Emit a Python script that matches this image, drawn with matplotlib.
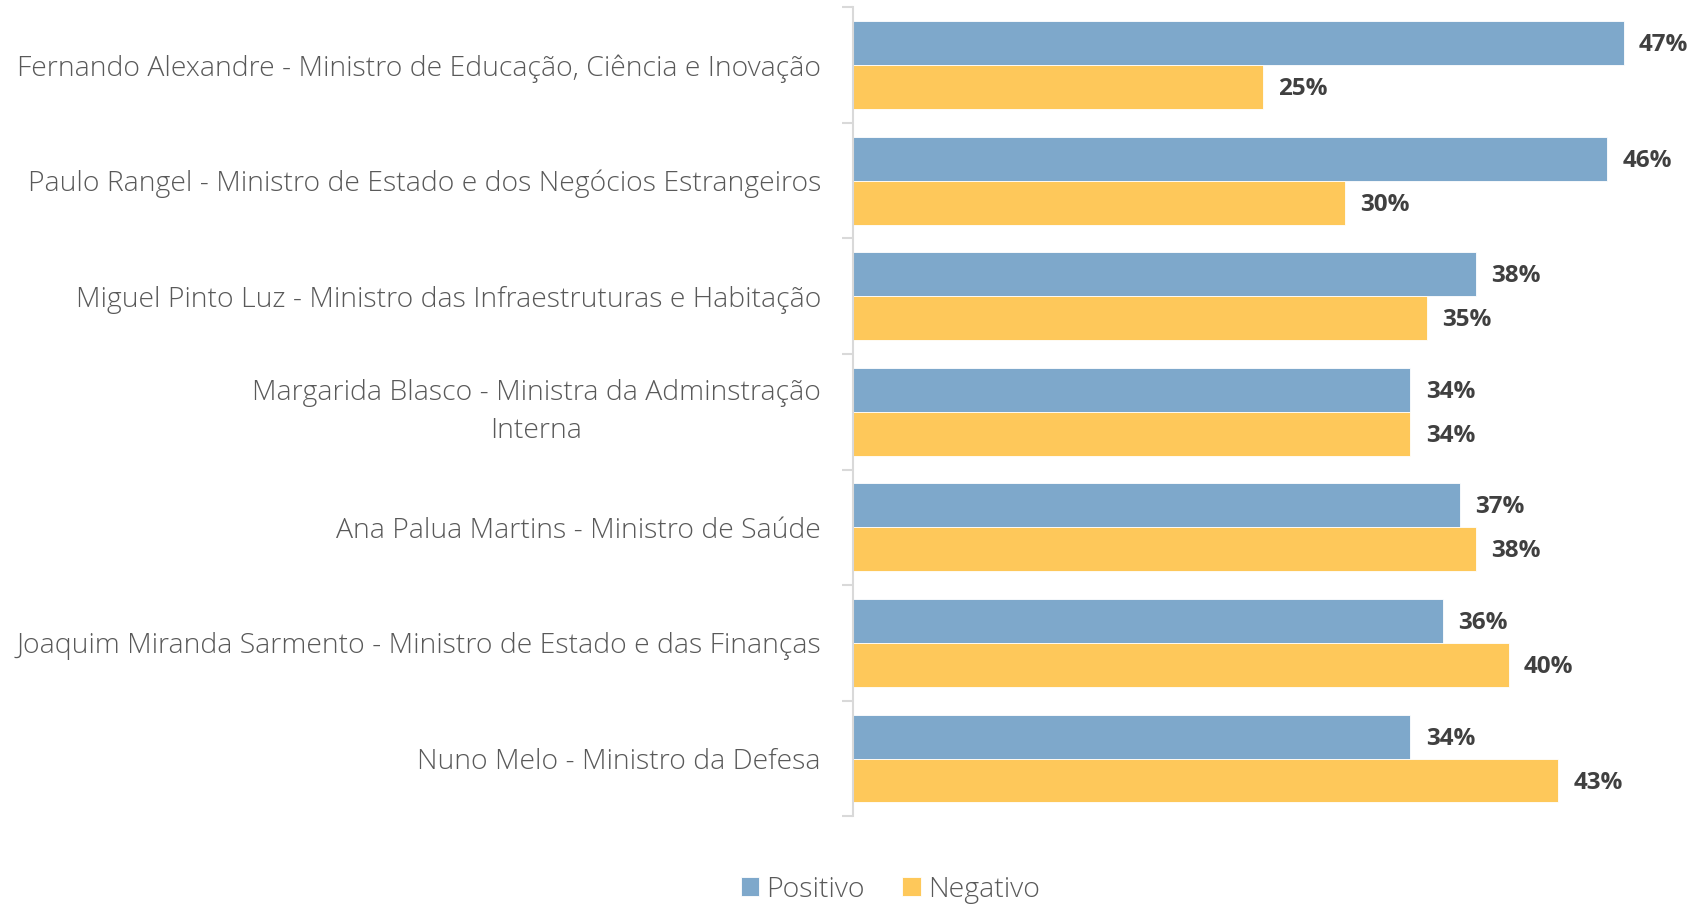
import matplotlib.pyplot as plt
import numpy as np

# data
ministros = [
    "Fernando Alexandre - Ministro de Educação, Ciência e Inovação",
    "Paulo Rangel - Ministro de Estado e dos Negócios Estrangeiros",
    "Miguel Pinto Luz - Ministro das Infraestruturas e Habitação",
    "Margarida Blasco - Ministra da Adminstração\nInterna",
    "Ana Palua Martins - Ministro de Saúde",
    "Joaquim Miranda Sarmento - Ministro de Estado e das Finanças",
    "Nuno Melo - Ministro da Defesa",
]
positivo = [47, 46, 38, 34, 37, 36, 34]
negativo = [25, 30, 35, 34, 38, 40, 43]

blue = "#7ea8cb"
yellow = "#fec85a"
text_color = "#595959"
value_color = "#404040"

plt.rcParams['font.family'] = ['Open Sans', 'DejaVu Sans']

fig = plt.figure(figsize=(16.99, 9.06), dpi=100)
ax = fig.add_axes([0.502, 0.099, 0.498, 0.893])

n = len(ministros)
y = np.arange(n)
h = 0.38
ax.barh(y - h / 2, positivo, height=h, color=blue, edgecolor="white", linewidth=0.6, label="Positivo")
ax.barh(y + h / 2, negativo, height=h, color=yellow, edgecolor="white", linewidth=0.6, label="Negativo")

# value labels to the right of each bar
for yi, p, q in zip(y, positivo, negativo):
    ax.annotate(f"{p}%", (p, yi - h / 2), xytext=(11, -1.5), textcoords="offset points",
                va="center", ha="left", fontsize=17.5, fontweight="bold", color=value_color)
    ax.annotate(f"{q}%", (q, yi + h / 2), xytext=(11, -1.5), textcoords="offset points",
                va="center", ha="left", fontsize=17.5, fontweight="bold", color=value_color)

ax.set_xlim(0, 51.6)
ax.set_ylim(n - 0.5, -0.5)
ax.set_yticks(y)
ax.set_yticklabels(ministros, fontsize=20.4, fontweight="light", color=text_color,
                   multialignment="center", linespacing=1.45)
for lab in ax.get_yticklabels():
    if "\n" in lab.get_text():
        lab.set_va("center")
ax.tick_params(axis="y", which="major", length=0, pad=23)
ax.set_yticks(np.arange(n + 1) - 0.5, minor=True)
ax.tick_params(axis="y", which="minor", length=8, color="#d9d9d9", width=1.5)
ax.set_xticks([])

for s in ["top", "right", "bottom"]:
    ax.spines[s].set_visible(False)
ax.spines["left"].set_color("#d9d9d9")
ax.spines["left"].set_linewidth(1.5)

fig.legend(loc="lower center", bbox_to_anchor=(0.524, -0.026), ncol=2, frameon=False,
           prop={"size": 20.5, "weight": "light"}, labelcolor=text_color,
           handlelength=0.65, handleheight=0.65, handletextpad=0.25, columnspacing=1.3)

fig.savefig("out.png", dpi=100)
